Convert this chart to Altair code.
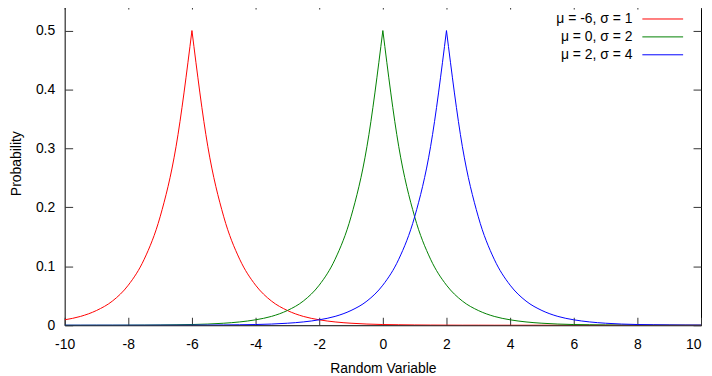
import altair as alt
import pandas as pd

# ---- data ----
x_grid = [-10.0, -9.5, -9.0, -8.5, -8.0, -7.5, -7.0, -6.5, -6.0, -5.5,
          -5.0, -4.5, -4.0, -3.5, -3.0, -2.5, -2.0, -1.5, -1.0, -0.5,
          0.0, 0.5, 1.0, 1.5, 2.0, 2.5, 3.0, 3.5, 4.0, 4.5,
          5.0, 5.5, 6.0, 6.5, 7.0, 7.5, 8.0, 8.5, 9.0, 9.5, 10.0]

series_names = ["μ = -6, σ = 1", "μ = 0, σ = 2", "μ = 2, σ = 4"]
series_colors = ["#ff0000", "#008000", "#0000ff"]

red_vals = [0.0092, 0.015, 0.025, 0.041, 0.068, 0.112, 0.184, 0.303, 0.500, 0.303,
            0.184, 0.112, 0.068, 0.041, 0.025, 0.015, 0.0092, 0.0056, 0.0034, 0.0020,
            0.0012, 0.0008, 0.0005, 0.0003, 0.0002, 0.0001, 0.0001, 0.0, 0.0, 0.0,
            0.0, 0.0, 0.0, 0.0, 0.0, 0.0, 0.0, 0.0, 0.0, 0.0, 0.0]

green_vals = [0.0, 0.0, 0.0001, 0.0001, 0.0002, 0.0003, 0.0005, 0.0008, 0.0012, 0.0020,
              0.0034, 0.0056, 0.0092, 0.015, 0.025, 0.041, 0.068, 0.112, 0.184, 0.303,
              0.500, 0.303, 0.184, 0.112, 0.068, 0.041, 0.025, 0.015, 0.0092, 0.0056,
              0.0034, 0.0020, 0.0012, 0.0008, 0.0005, 0.0003, 0.0002, 0.0001, 0.0001, 0.0, 0.0]

blue_vals = [0.0, 0.0, 0.0, 0.0, 0.0, 0.0, 0.0001, 0.0001, 0.0002, 0.0003,
             0.0005, 0.0008, 0.0012, 0.0020, 0.0034, 0.0056, 0.0092, 0.015, 0.025, 0.041,
             0.068, 0.112, 0.184, 0.303, 0.500, 0.303, 0.184, 0.112, 0.068, 0.041,
             0.025, 0.015, 0.0092, 0.0056, 0.0034, 0.0020, 0.0012, 0.0008, 0.0005, 0.0003, 0.0002]

x_ticks = [-10, -8, -6, -4, -2, 0, 2, 4, 6, 8, 10]
y_ticks = [0, 0.1, 0.2, 0.3, 0.4, 0.5]

# ---- long table; each curve split at its peak so the cusp stays sharp ----
rows = []
for order, (name, vals) in enumerate(zip(series_names, [red_vals, green_vals, blue_vals])):
    p = vals.index(max(vals))
    for i, (xv, yv) in enumerate(zip(x_grid, vals)):
        if i <= p:
            rows.append({"series": name, "x": xv, "y": yv, "half": "L", "o": order})
        if i >= p:
            rows.append({"series": name, "x": xv, "y": yv, "half": "R", "o": order})
df = pd.DataFrame(rows)

FONT = "Liberation Sans"

lines = alt.Chart(df).mark_line(interpolate="monotone", strokeWidth=1, clip=True).encode(
    x=alt.X("x:Q", scale=alt.Scale(domain=[-10, 10], nice=False, zero=False),
            axis=alt.Axis(values=x_ticks, title="Random Variable", labelExpr="'' + datum.value",
                          labelFlush=False, labelOverlap=False,
                          labelAlign={"condition": {"test": "datum.value == 10", "value": "right"},
                                      "value": "center"})),
    y=alt.Y("y:Q", scale=alt.Scale(domain=[0, 0.55], nice=False),
            axis=alt.Axis(values=y_ticks, title="Probability", labelExpr="'' + datum.value",
                          labelFlush=False, labelOverlap=False)),
    color=alt.Color("series:N", scale=alt.Scale(domain=series_names, range=series_colors), legend=None),
    detail="half:N",
    order="o:Q",
)

# ---- gnuplot-style key: right-aligned labels, line sample to the right ----
legend_layers = []
for k, (name, col) in enumerate(zip(series_names, series_colors)):
    ypix = 18 + 18 * k
    t = alt.Chart(pd.DataFrame({"label": [name]})).mark_text(
        align="right", baseline="middle", font=FONT, fontSize=14, color="#000000"
    ).encode(x=alt.value(571), y=alt.value(ypix), text="label:N")
    r = alt.Chart(pd.DataFrame({"label": [name]})).mark_rule(color=col, strokeWidth=1).encode(
        x=alt.value(581), x2=alt.value(622), y=alt.value(ypix)
    )
    legend_layers += [t, r]

chart = alt.layer(lines, *legend_layers).properties(
    width=640,
    height=326,
    autosize=alt.AutoSizeParams(type="none"),
    padding={"left": 57, "top": -8, "right": 3, "bottom": 50},
).configure_view(
    stroke="#000000", strokeWidth=1
).configure_axis(
    domain=False, ticks=False, tickSize=0, grid=True,
    gridColor="#333333", gridWidth=1, gridOpacity=1,
    labelFont=FONT, labelFontSize=14, labelColor="#000000",
    titleFont=FONT, titleFontSize=14, titleFontWeight="normal", titleColor="#000000",
).configure_axisX(
    gridDash=[8, 310, 8, 1000], labelPadding=12, titlePadding=11
).configure_axisY(
    gridDash=[8, 624, 8, 2000], labelPadding=10, titlePadding=12
)

chart.save("out.html", embed_options={"renderer": "svg", "actions": False})
